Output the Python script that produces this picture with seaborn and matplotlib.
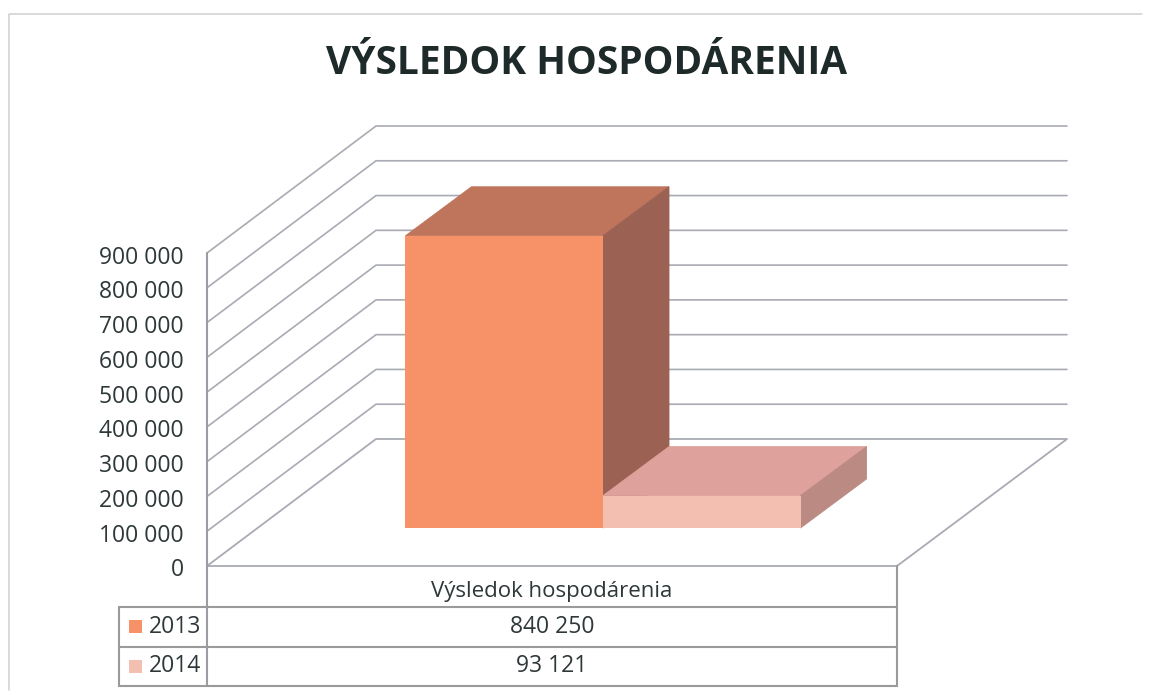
import matplotlib
matplotlib.use("Agg")
import matplotlib.pyplot as plt
import pandas as pd
import seaborn as sns
from matplotlib.patches import Polygon, Rectangle
from matplotlib.transforms import ScaledTranslation

TITLE = "VÝSLEDOK HOSPODÁRENIA"
category = "Výsledok hospodárenia"
years = ["2013", "2014"]
values = [840250, 93121]
yticks = [0, 100000, 200000, 300000, 400000, 500000, 600000, 700000, 800000, 900000]

front_colors = ["#F79167", "#F3BFB0"]
top_colors = ["#BF745C", "#DFA19B"]
side_colors = ["#9B6253", "#BB8A83"]
LINE = "#A8ABB3"
TEXT = "#2E3838"

W, H = 1152, 694
YMAX = 900000
PLANE_H = 313
FRONT = (207, 897, 566)   # left, right, bottom of the front plane
BACK = (376, 1067, 439)   # left, right, floor of the back wall
BAR_DX, BAR_DY = 66, 49
BAR_PLANE = (258, 948, 528)


def fmt(v):
    return f"{v:,}".replace(",", " ")


def axes_px(fig, left, right, bottom):
    return fig.add_axes([left / W, (H - bottom) / H, (right - left) / W, PLANE_H / H])


sns.set_theme(style="white")
plt.rcParams["font.family"] = ["Open Sans", "DejaVu Sans"]

fig = plt.figure(figsize=(W / 100, H / 100), dpi=100, facecolor="white")

# background in pixel coordinates: frame, walls, table
bg = fig.add_axes([0, 0, 1, 1])
bg.set_xlim(0, W)
bg.set_ylim(H, 0)
bg.axis("off")

bg.plot([9, 9, 1142], [690, 14, 14], color="#CFCFCF", lw=1.1)

for v in yticks[1:]:
    y = FRONT[2] - v * PLANE_H / YMAX
    bg.plot([FRONT[0], BACK[0], BACK[1]], [y, y - (FRONT[2] - BACK[2]), y - (FRONT[2] - BACK[2])],
            color=LINE, lw=1.2)
bg.plot([FRONT[0], BACK[0], BACK[1], FRONT[1], FRONT[0]],
        [FRONT[2], BACK[2], BACK[2], FRONT[2], FRONT[2]], color=LINE, lw=1.3)
bg.plot([FRONT[0], FRONT[0]], [FRONT[2] - PLANE_H, 686], color="#9A9DA3", lw=1.5)

# table below the chart
rows = [607, 647, 686]
bg.plot([FRONT[1], FRONT[1]], [FRONT[2], rows[-1]], color="#9A9A9A", lw=1.5)
bg.plot([119, 119], [rows[0], rows[-1]], color="#9A9A9A", lw=1.5)
for y in rows:
    bg.plot([119, FRONT[1]], [y, y], color="#9A9A9A", lw=1.5)

bg.text(552, 592, category, ha="center", va="center", fontsize=16, fontweight=500, color=TEXT)
for i, (year, val) in enumerate(zip(years, values)):
    yc = (rows[i] + rows[i + 1]) / 2
    bg.add_patch(Rectangle((129, yc - 7), 13, 13, color=front_colors[i], lw=0))
    bg.text(149, yc, year, ha="left", va="center", fontsize=16.5, fontweight=500, color=TEXT)
    bg.text(552, yc, fmt(val), ha="center", va="center", fontsize=16.5, fontweight=500, color=TEXT)

bg.text(587, 63, TITLE, ha="center", va="center", fontsize=28, fontweight="bold", color="#1E2A2A")

# value axis sits on the front plane
front = axes_px(fig, FRONT[0], FRONT[1], FRONT[2])
front.patch.set_alpha(0)
front.set_ylim(0, YMAX)
front.set_xticks([])
front.set_yticks(yticks)
front.set_yticklabels([fmt(v) for v in yticks], fontsize=16.5, fontweight=500, color=TEXT)
front.tick_params(axis="y", length=0, pad=16.5)
shift = ScaledTranslation(0, -1.5 / 100, fig.dpi_scale_trans)
for lab in front.get_yticklabels():
    lab.set_transform(lab.get_transform() + shift)
sns.despine(ax=front, left=True, bottom=True)

# bars sit a bit deeper, on their own plane
ax = axes_px(fig, BAR_PLANE[0], BAR_PLANE[1], BAR_PLANE[2])
ax.patch.set_alpha(0)
df = pd.DataFrame({"kategoria": [category] * len(years), "rok": years, "hodnota": values})
sns.barplot(data=df, x="kategoria", y="hodnota", hue="rok", palette=front_colors,
            width=0.5725, gap=0, saturation=1, legend=False, linewidth=0, ax=ax)
ax.set_xlim(-0.5, 0.5)
ax.set_ylim(0, YMAX)
ax.axis("off")

dx = BAR_DX / (BAR_PLANE[1] - BAR_PLANE[0])
dy = BAR_DY * YMAX / PLANE_H
for i, cont in enumerate(ax.containers):
    for bar in cont:
        x0, x1, h = bar.get_x(), bar.get_x() + bar.get_width(), bar.get_height()
        ax.add_patch(Polygon([(x0, h), (x1, h), (x1 + dx, h + dy), (x0 + dx, h + dy)],
                             closed=True, color=top_colors[i], lw=0.6, clip_on=False, zorder=3 + i))
        ax.add_patch(Polygon([(x1, 0), (x1, h), (x1 + dx, h + dy), (x1 + dx, dy)],
                             closed=True, color=side_colors[i], lw=0.6, clip_on=False, zorder=3 + i))
        bar.set_zorder(3.5 + i)

fig.savefig("out.png", dpi=100)
plt.close(fig)
